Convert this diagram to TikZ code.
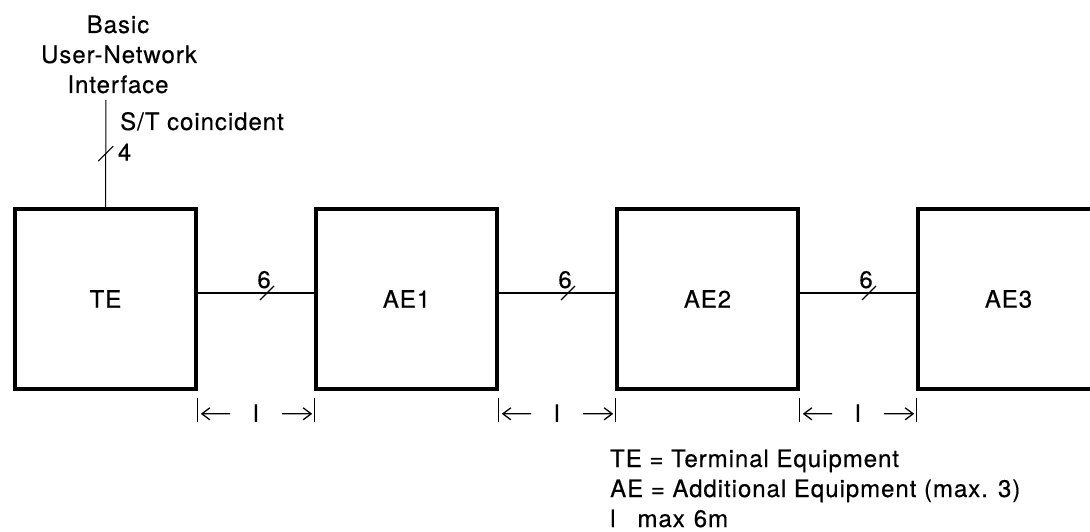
\documentclass[tikz,border=0pt]{standalone}
\usepackage{fontspec}
\setmainfont{TeX Gyre Heros}[LetterSpace=4,FakeBold=0.4]
\usetikzlibrary{arrows.meta,calc}
\begin{document}
\begin{tikzpicture}[x=1pt,y=-1pt,
  txt/.style={font=\fontsize{24}{29}\selectfont,inner sep=0pt},
  equip/.style={draw,line width=3.6pt,minimum width=181pt,minimum height=180pt,
     inner sep=0pt,font=\fontsize{24}{29}\selectfont},
  conn/.style={line width=1.2pt},
  thin/.style={line width=1pt},
  dimarrow/.style={line width=1.3pt,-{Straight Barb[length=8pt,width=12pt,line width=1.3pt]}}]
\clip (0,0) rectangle (1090,532);
\fill[white] (0,0) rectangle (1090,532);
% equipment boxes
\node[equip] (te)  at (105.5,299) {TE};
\node[equip] (ae1) at (406.5,299) {AE1};
\node[equip] (ae2) at (707.5,299) {AE2};
\node[equip] (ae3) at (1008.5,299) {AE3};
% interface line at the top
\coordinate (uni) at (106,100);
\draw[thin] (te.north) -- coordinate[pos=0.5](s0) (uni);
\node[txt,anchor=base] (b1) at (118,33) {Basic};
\node[txt,anchor=base] (b2) at (119,63) {User-Network};
\node[txt,anchor=base] (b3) at (118,93) {Interface};
\node[txt,anchor=base west] (st) at (120,130) {S/T coincident};
\draw[conn] ([shift={(-7.5,7.5)}]s0) -- ([shift={(7.5,-7.5)}]s0);
\node[txt,anchor=base west] (n4) at ([shift={(12,7)}]s0) {4};
% connectors between boxes
\foreach \a/\b/\s in {te/ae1/s1,ae1/ae2/s2,ae2/ae3/s3}{
  \draw[conn] ([yshift=6pt]\a.east) -- coordinate[pos=0.595](\s) ([yshift=6pt]\b.west);
  \draw[conn] ([shift={(-7,7)}]\s) -- ([shift={(7,-7)}]\s);
  \node[txt,anchor=base] (lab\s) at ([shift={(-3,-5)}]\s) {6};
}
% dimension marks
\foreach \a/\b/\d in {te/ae1/d1,ae1/ae2/d2,ae2/ae3/d3}{
  \coordinate (\d l) at ($(\a.south east)+(0,7)$);
  \coordinate (\d r) at ($(\b.south west)+(0,7)$);
  \draw[thin] (\d l) -- ++(0,24);
  \draw[thin] (\d r) -- ++(0,24);
  \coordinate (\d m) at ($(\d l)!0.5!(\d r)+(0,16)$);
  \node[txt,anchor=base] (lab\d) at ($(\d m)+(0,8)$) {l};
  \draw[dimarrow] ($(\d m)+(-26,0)$) -- ($(\d l)+(3,16)$);
  \draw[dimarrow] ($(\d m)+(26,0)$) -- ($(\d r)+(-2,16)$);
}
% legend
\node[txt,anchor=base west] (leg1) at (610,467) {TE = Terminal Equipment};
\node[txt,anchor=base west] (leg2) at (610,497) {AE = Additional Equipment (max. 3)};
\node[txt,anchor=base west] (leg3) at (610,527) {l\hspace{22pt}max\hspace{9pt}6m};
\end{tikzpicture}
\end{document}
